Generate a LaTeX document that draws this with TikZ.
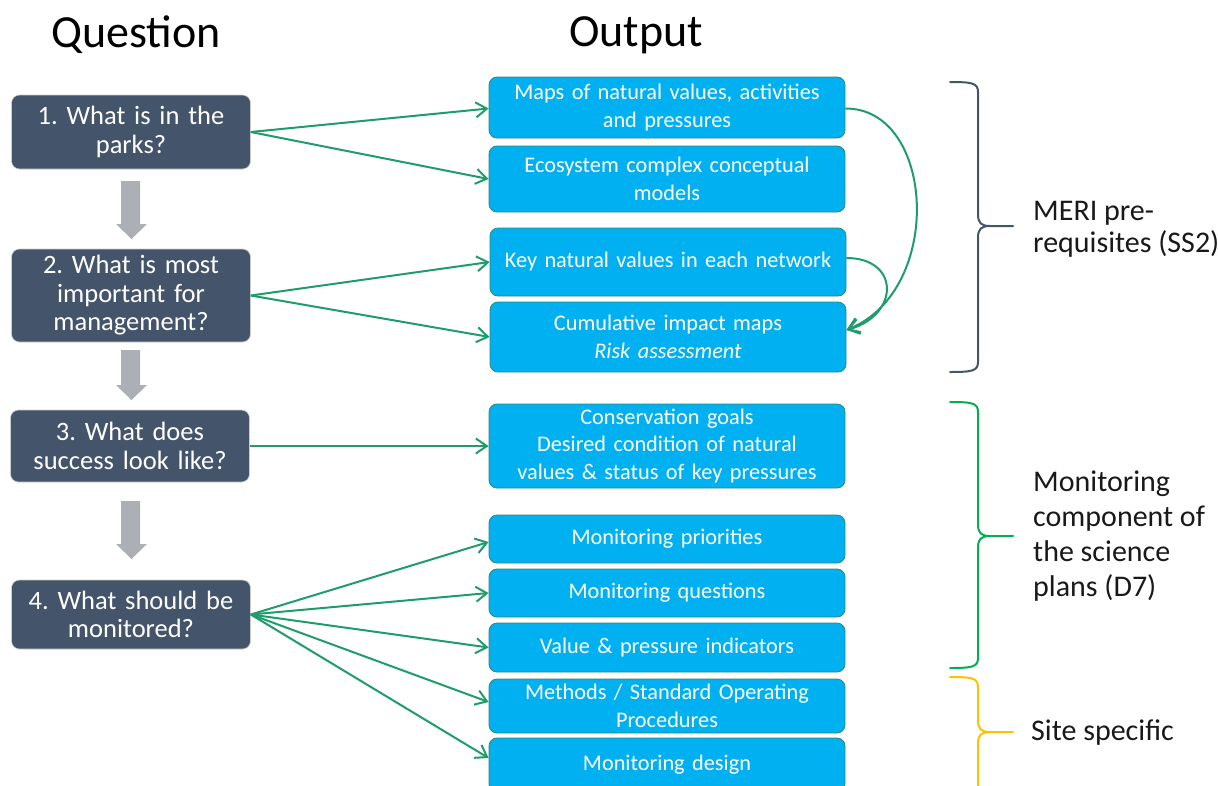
\documentclass[tikz,border=0pt]{standalone}
\usepackage{fontspec}
\setmainfont{Carlito}
\usetikzlibrary{arrows.meta}
\hyphenpenalty=10000
\exhyphenpenalty=10000
\frenchspacing
\definecolor{qbox}{HTML}{44546A}
\definecolor{obox}{HTML}{00B0F0}
\definecolor{oborder}{HTML}{2A8C78}
\definecolor{garrow}{HTML}{1F9C6C}
\definecolor{grayarr}{HTML}{ADAFB6}
\definecolor{bgreen}{HTML}{00B050}
\definecolor{byellow}{HTML}{FFC000}
\tikzset{
  qnode/.style={rectangle, rounded corners=8pt, fill=qbox, draw=black!20, line width=0.6pt,
    minimum width=239pt, text width=235pt, align=center, inner sep=0pt, text=white,
    font=\fontsize{26.5}{28.5}\selectfont\frenchspacing},
  onode/.style={rectangle, rounded corners=8pt, fill=obox, draw=oborder, line width=0.8pt,
    minimum width=356pt, text width=350pt, align=center, inner sep=0pt, text=white,
    font=\fontsize{22.3}{27.5}\selectfont\frenchspacing},
  link/.style={draw=garrow, line width=2pt, -{Straight Barb[length=11pt,width=15pt,line width=2pt]}},
  header/.style={font=\fontsize{46}{52}\selectfont, text=black},
  sidelabel/.style={anchor=west, align=left, inner sep=0pt, text=black!90,
    font=\fontsize{30}{34}\selectfont},
  brace/.style={line width=2pt, line cap=round, line join=round}
}
\newcommand{\myfatarrow}[3]{%
  \fill[grayarr] (121,#1) -- (140,#1) -- (140,#2) -- (147,#2) -- (131.5,#3) -- (116,#2) -- (121,#2) -- cycle;}
\newcommand{\mybrace}[6]{% color, xleft, xvert, top, mid, bottom
  \draw[brace, #1] (#2,#4) .. controls (#3-6,#4) and (#3,#4+1) .. (#3,#4+10) -- (#3,#5-12)
    .. controls (#3,#5-3) and (#3+3,#5) .. (#3+12,#5) -- (#3+35,#5);
  \draw[brace, #1] (#3+12,#5) .. controls (#3+3,#5) and (#3,#5+3) .. (#3,#5+12) -- (#3,#6-10)
    .. controls (#3,#6-1) and (#3-6,#6) .. (#2,#6);}
\begin{document}
\begin{tikzpicture}[x=1pt,y=-1pt]
\useasboundingbox (0,0) rectangle (1218,785);
% headers
\node[header] (hq) at (136,35) {Question};
\node[header] (ho) at (636,35) {Output};
% question boxes
\node[qnode, minimum height=74pt] (b1) at (131,132) {1. What is in the\\parks?};
\node[qnode, minimum height=93pt] (b2) at (131,295.5) {2. What is most\\important for\\management?};
\node[qnode, minimum height=72pt] (b3) at (130,446) {3. What does\\success look like?};
\node[qnode, minimum height=69pt] (b4) at (131,614.5) {4. What should be\\monitored?};
% gray arrows
\myfatarrow{181}{224}{239}
\myfatarrow{350}{385}{400}
\myfatarrow{501}{544}{559}
% output boxes
\node[onode, minimum height=61pt] (r1) at (667,107.5) {Maps of natural values, activities\\and pressures};
\node[onode, minimum height=66pt] (r2) at (667,179) {Ecosystem complex conceptual\\models};
\node[onode, minimum height=68pt] (r3) at (668,262) {Key natural values in each network};
\node[onode, minimum height=70pt] (r4) at (668,337) {Cumulative impact maps\\\textit{Risk assessment}};
\node[onode, minimum height=84pt] (r5) at (667,446) {Conservation goals\\Desired condition of natural\\values \& status of key pressures};
\node[onode, minimum height=48pt] (r6) at (667,539) {Monitoring priorities};
\node[onode, minimum height=48pt] (r7) at (667,593) {Monitoring questions};
\node[onode, minimum height=49pt] (r8) at (667,647.5) {Value \& pressure indicators};
\node[onode, minimum height=54pt] (r9) at (667,706) {Methods / Standard Operating\\Procedures};
\node[onode, minimum height=54pt] (r10) at (667,765) {Monitoring design};
% links
\draw[link] (b1.east) -- ([yshift=-1pt]r1.west);
\draw[link] (b1.east) -- (r2.west);
\draw[link] (b2.east) -- (r3.west);
\draw[link] (b2.east) -- (r4.west);
\draw[link] (b3.east) -- (r5.west);
\draw[link] (b4.east) -- ([yshift=-3pt]r6.west);
\draw[link] (b4.east) -- (r7.west);
\draw[link] (b4.east) -- (r8.west);
\draw[link] (b4.east) -- ([yshift=4pt]r9.west);
\draw[link] (b4.east) -- ([yshift=7pt]r10.west);
% curved links
\coordinate (c1) at ([yshift=-1pt]r1.east);
\coordinate (c3) at ([yshift=4pt]r3.east);
\coordinate (c4) at ([yshift=7pt]r4.east);
\draw[link] (c1) .. controls (935,108) and (945,290) .. (c4);
\draw[link] (c3) .. controls (900,258) and (900,315) .. (c4);
% braces
\mybrace{qbox}{950}{978}{82}{226}{372}
\mybrace{bgreen}{950}{978}{402}{536}{668}
\draw[brace, byellow] (950,677) .. controls (972,677) and (978,678) .. (978,687) -- (978,720)
  .. controls (978,729) and (981,732) .. (990,732) -- (1013,732);
\draw[brace, byellow] (990,732) .. controls (981,732) and (978,735) .. (978,744) -- (978,790);
% side labels
\node[sidelabel, font=\fontsize{30}{32}\selectfont] (l1) at (1033,229) {MERI pre-\\requisites (SS2)};
\node[sidelabel, font=\fontsize{30}{35}\selectfont] (l2) at (1033,536) {Monitoring\\component of\\the science\\plans (D7)};
\node[sidelabel] (l3) at (1031,733) {Site specific};
\end{tikzpicture}
\end{document}
